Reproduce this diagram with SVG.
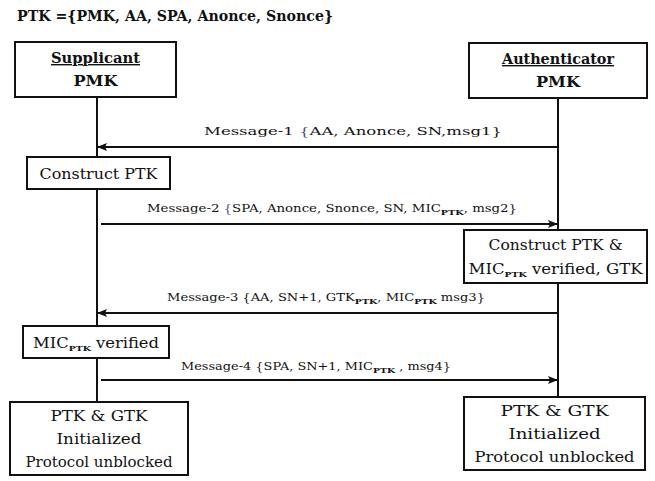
<svg xmlns="http://www.w3.org/2000/svg" width="655" height="481" viewBox="0 0 655 481">
  <style>
    text { fill: #111; }
    .title { font-size: 14px; font-weight: bold; }
    .head { font-size: 14px; font-weight: bold; text-anchor: middle; }
    .lbl { font-size: 14px; text-anchor: middle; }
    .msg { font-size: 11px; text-anchor: middle; }
    .sub { font-size: 8px; font-weight: bold; }
    .br { fill: #4a4a8a; }
    .box { fill: #fff; stroke: #111; stroke-width: 2; }
    .life { stroke: #111; stroke-width: 2; fill: none; }
    .arrow { stroke: #111; stroke-width: 2; fill: none; marker-end: url(#head); }
  </style>
  <defs>
    <marker id="head" viewBox="0 0 10 8" refX="9" refY="4" markerWidth="5" markerHeight="4" orient="auto" markerUnits="strokeWidth">
      <path d="M0,0 L10,4 L0,8 L2,4 Z" fill="#111"/>
    </marker>
  </defs>

  <rect width="655" height="481" fill="#fff"/>

  <text font-family="DejaVu Serif" class="title" x="17" y="21" textLength="316" lengthAdjust="spacingAndGlyphs">PTK ={PMK, AA, SPA, Anonce, Snonce}</text>

  <!-- lifelines and messages -->
  <g id="connectors">
    <path class="life" d="M97,97 V157 M97,189 V326 M97,358 V402"/>
    <path class="life" d="M558,98 V230 M558,283 V397"/>
    <line class="arrow" x1="557" y1="147" x2="98" y2="147"/>
    <line class="arrow" x1="101" y1="224" x2="557" y2="224"/>
    <line class="arrow" x1="557" y1="313" x2="98" y2="313"/>
    <line class="arrow" x1="101" y1="380" x2="557" y2="380"/>
  </g>

  <g id="msg1">
    <text font-family="DejaVu Serif" class="msg" x="353" y="135" textLength="298" lengthAdjust="spacingAndGlyphs">Message-1 <tspan class="br">{</tspan>AA, Anonce, SN,msg1}</text>
  </g>
  <g id="msg2">
    <text font-family="DejaVu Serif" class="msg" x="332" y="212" textLength="370" lengthAdjust="spacingAndGlyphs">Message-2 <tspan class="br">{</tspan>SPA, Anonce, Snonce, SN, MIC<tspan class="sub" dy="3">PTK</tspan><tspan dy="-3">, msg2}</tspan></text>
  </g>
  <g id="msg3">
    <text font-family="DejaVu Serif" class="msg" x="326" y="301" textLength="318" lengthAdjust="spacingAndGlyphs">Message-3 {AA, SN+1, GTK<tspan class="sub" dy="3">PTK</tspan><tspan dy="-3">, MIC</tspan><tspan class="sub" dy="3">PTK</tspan><tspan dy="-3"> msg3}</tspan></text>
  </g>
  <g id="msg4">
    <text font-family="DejaVu Serif" class="msg" x="316" y="370" textLength="270" lengthAdjust="spacingAndGlyphs">Message-4 {SPA, SN+1, MIC<tspan class="sub" dy="3">PTK</tspan><tspan dy="-3"> , msg4}</tspan></text>
  </g>

  <g id="supplicant">
    <rect class="box" x="15" y="42" width="161" height="55"/>
    <text font-family="DejaVu Serif" class="head" x="95.5" y="63" textLength="89" lengthAdjust="spacingAndGlyphs" text-decoration="underline">Supplicant</text>
    <text font-family="DejaVu Serif" class="head" x="95.5" y="86" textLength="44" lengthAdjust="spacingAndGlyphs">PMK</text>
  </g>

  <g id="authenticator">
    <rect class="box" x="469" y="43" width="178" height="55"/>
    <text font-family="DejaVu Serif" class="head" x="558" y="64" textLength="112" lengthAdjust="spacingAndGlyphs" text-decoration="underline">Authenticator</text>
    <text font-family="DejaVu Serif" class="head" x="558" y="87" textLength="44" lengthAdjust="spacingAndGlyphs">PMK</text>
  </g>

  <g id="construct-ptk">
    <rect class="box" x="27" y="157" width="143" height="32"/>
    <text font-family="DejaVu Serif" class="lbl" x="98.5" y="179" textLength="118" lengthAdjust="spacingAndGlyphs">Construct PTK</text>
  </g>

  <g id="construct-ptk-gtk">
    <rect class="box" x="464" y="230" width="183" height="53"/>
    <text font-family="DejaVu Serif" class="lbl" x="555.5" y="250" textLength="134" lengthAdjust="spacingAndGlyphs">Construct PTK &amp;</text>
    <text font-family="DejaVu Serif" class="lbl" x="555.5" y="274" textLength="174" lengthAdjust="spacingAndGlyphs">MIC<tspan class="sub" font-size="9" dy="3">PTK</tspan><tspan dy="-3"> verified, GTK</tspan></text>
  </g>

  <g id="mic-verified">
    <rect class="box" x="23" y="326" width="146" height="32"/>
    <text font-family="DejaVu Serif" class="lbl" x="96" y="348" textLength="126" lengthAdjust="spacingAndGlyphs">MIC<tspan class="sub" font-size="9" dy="3">PTK</tspan><tspan dy="-3"> verified</tspan></text>
  </g>

  <g id="supplicant-done">
    <rect class="box" x="10" y="402" width="178" height="73"/>
    <text font-family="DejaVu Serif" class="lbl" x="99" y="421" textLength="97" lengthAdjust="spacingAndGlyphs">PTK &amp; GTK</text>
    <text font-family="DejaVu Serif" class="lbl" x="99" y="444" textLength="85" lengthAdjust="spacingAndGlyphs">Initialized</text>
    <text font-family="DejaVu Serif" class="lbl" x="99" y="467" textLength="147" lengthAdjust="spacingAndGlyphs">Protocol unblocked</text>
  </g>

  <g id="authenticator-done">
    <rect class="box" x="464" y="397" width="181" height="73"/>
    <text font-family="DejaVu Serif" class="lbl" x="554.5" y="416" textLength="108" lengthAdjust="spacingAndGlyphs">PTK &amp; GTK</text>
    <text font-family="DejaVu Serif" class="lbl" x="554.5" y="439" textLength="92" lengthAdjust="spacingAndGlyphs">Initialized</text>
    <text font-family="DejaVu Serif" class="lbl" x="554.5" y="462" textLength="160" lengthAdjust="spacingAndGlyphs">Protocol unblocked</text>
  </g>
</svg>
